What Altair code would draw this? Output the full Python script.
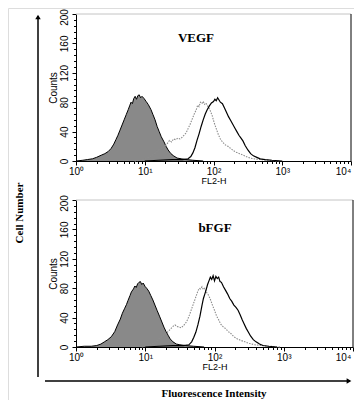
import altair as alt
import pandas as pd

# ---- data: positions are log10(FL2-H), values are counts ----
vegf_ctrl_d = [0.00, 0.10, 0.17, 0.24, 0.30, 0.37, 0.42, 0.47, 0.51, 0.55, 0.58, 0.61, 0.64, 0.67, 0.70, 0.73,
               0.76, 0.78, 0.80, 0.82, 0.84, 0.86, 0.88, 0.90, 0.92, 0.94, 0.96, 0.99, 1.02, 1.05, 1.09, 1.12,
               1.15, 1.18, 1.21, 1.24, 1.28, 1.31, 1.34, 1.38, 1.42, 1.47, 1.53, 1.60, 1.70, 1.85]
vegf_ctrl_c = [0, 1, 2, 3, 5, 8, 10, 13, 17, 23, 29, 35, 42, 49, 56, 63,
               70, 75, 80, 78, 85, 88, 84, 89, 90, 86, 88, 85, 81, 77, 70, 63,
               56, 47, 40, 33, 26, 20, 15, 10, 7, 4, 3, 2, 1, 0]

vegf_dot_d = [0.85, 0.95, 1.02, 1.08, 1.14, 1.19, 1.24, 1.29, 1.33, 1.36, 1.39, 1.42, 1.45, 1.48, 1.51, 1.54,
              1.57, 1.60, 1.63, 1.66, 1.69, 1.72, 1.75, 1.77, 1.79, 1.81, 1.83, 1.85, 1.87, 1.89, 1.92, 1.95,
              1.98, 2.01, 2.04, 2.07, 2.10, 2.13, 2.17, 2.21, 2.25, 2.29, 2.33, 2.38, 2.43, 2.50, 2.58, 2.68,
              2.80, 2.95]
vegf_dot_c = [0, 1, 3, 6, 10, 14, 17, 20, 24, 28, 26, 30, 29, 31, 30, 32,
              35, 38, 44, 50, 57, 64, 70, 76, 74, 80, 78, 81, 77, 79, 74, 69,
              62, 52, 44, 36, 30, 26, 22, 20, 17, 14, 12, 10, 8, 5, 3, 2,
              1, 0]

vegf_sol_d = [1.00, 1.20, 1.40, 1.55, 1.63, 1.67, 1.70, 1.73, 1.76, 1.79, 1.82, 1.85, 1.88, 1.91, 1.94, 1.97,
              2.00, 2.02, 2.04, 2.06, 2.08, 2.10, 2.13, 2.16, 2.19, 2.22, 2.25, 2.28, 2.31, 2.34, 2.37, 2.40,
              2.43, 2.46, 2.50, 2.54, 2.58, 2.63, 2.68, 2.75, 2.85, 3.00]
vegf_sol_c = [0, 1, 2, 2, 3, 6, 11, 18, 28, 37, 47, 56, 64, 70, 75, 79,
              81, 84, 82, 86, 83, 80, 78, 72, 66, 60, 55, 50, 45, 40, 35, 31,
              27, 21, 15, 10, 7, 5, 3, 2, 1, 0]

bfgf_ctrl_d = [0.00, 0.12, 0.22, 0.30, 0.36, 0.41, 0.46, 0.51, 0.56, 0.60, 0.64, 0.67, 0.70, 0.73, 0.75, 0.78,
               0.80, 0.83, 0.85, 0.87, 0.89, 0.91, 0.93, 0.95, 0.97, 1.00, 1.02, 1.05, 1.08, 1.11, 1.14, 1.17,
               1.21, 1.24, 1.27, 1.30, 1.33, 1.36, 1.40, 1.45, 1.50, 1.58, 1.70, 1.85]
bfgf_ctrl_c = [0, 1, 1, 2, 4, 7, 10, 14, 21, 30, 38, 46, 52, 58, 63, 70,
               75, 79, 83, 81, 86, 88, 89, 85, 87, 82, 80, 76, 70, 64, 57, 50,
               41, 34, 27, 21, 16, 11, 7, 4, 3, 2, 1, 0]

bfgf_dot_d = [0.95, 1.05, 1.12, 1.18, 1.24, 1.29, 1.33, 1.37, 1.40, 1.43, 1.46, 1.49, 1.52, 1.55, 1.58, 1.61,
              1.64, 1.67, 1.70, 1.73, 1.76, 1.78, 1.80, 1.82, 1.84, 1.86, 1.88, 1.91, 1.94, 1.97, 2.00, 2.03,
              2.06, 2.09, 2.12, 2.16, 2.20, 2.24, 2.28, 2.33, 2.38, 2.44, 2.50, 2.58, 2.68, 2.80, 2.95]
bfgf_dot_c = [0, 2, 5, 10, 14, 18, 21, 25, 28, 30, 28, 27, 26, 29, 32, 37,
              44, 52, 60, 68, 76, 80, 79, 82, 78, 80, 75, 71, 65, 57, 50, 42,
              37, 31, 28, 25, 21, 18, 14, 11, 9, 7, 5, 3, 2, 1, 0]

bfgf_sol_d = [1.00, 1.20, 1.40, 1.55, 1.63, 1.67, 1.70, 1.73, 1.76, 1.79, 1.82, 1.84, 1.86, 1.88, 1.90, 1.92,
              1.94, 1.96, 1.98, 2.00, 2.02, 2.04, 2.06, 2.08, 2.10, 2.13, 2.16, 2.19, 2.22, 2.25, 2.28, 2.31,
              2.34, 2.37, 2.40, 2.43, 2.46, 2.49, 2.52, 2.56, 2.60, 2.65, 2.70, 2.78, 2.90]
bfgf_sol_c = [0, 1, 2, 2, 3, 7, 13, 20, 30, 42, 57, 66, 72, 78, 85, 90,
              95, 92, 97, 90, 96, 93, 95, 89, 88, 82, 77, 72, 66, 62, 57, 54,
              50, 44, 37, 31, 25, 20, 15, 10, 7, 4, 2, 1, 0]

x_major = [1, 10, 100, 1000, 10000]
x_major_labels = ["10\u2070", "10\u00b9", "10\u00b2", "10\u00b3", "10\u2074"]
x_ticks = [m * 10 ** e for e in range(4) for m in range(1, 10)] + [10000]
y_major = [0, 40, 80, 120, 160, 200]
y_ticks = list(range(0, 201, 8))

SANS = "Liberation Sans"
SERIF = "Liberation Serif"

label_expr = " : ".join(
    f"datum.value == {v} ? '{t}'" for v, t in zip(x_major, x_major_labels)
) + " : ''"
x_test = "indexof([" + ",".join(str(v) for v in x_major) + "], datum.value) >= 0"
y_test = "indexof([" + ",".join(str(v) for v in y_major) + "], datum.value) >= 0"

W, H = 346, 392
one = pd.DataFrame({"k": [0]})


def panel(ctrl_d, ctrl_c, dot_d, dot_c, sol_d, sol_c, x_range, y_range, last_shift):
    df = pd.concat([
        pd.DataFrame({"d": ctrl_d, "count": ctrl_c, "series": "ctrl"}),
        pd.DataFrame({"d": dot_d, "count": dot_c, "series": "dot"}),
        pd.DataFrame({"d": sol_d, "count": sol_c, "series": "sol"}),
    ])
    base = alt.Chart(df).transform_calculate(fl="pow(10, datum.d)")
    x = alt.X("fl:Q", scale=alt.Scale(type="log", domain=[1, 10000], nice=False, range=x_range),
              axis=alt.Axis(orient="bottom", offset=y_range[0] - H,
                            values=x_ticks, labelExpr=label_expr,
                            tickSize={"condition": {"test": x_test, "value": 4}, "value": 2.5},
                            labelOffset={"condition": {"test": "datum.value == 10000", "value": last_shift},
                                         "value": 0},
                            title="FL2-H", titleFont=SANS, titleFontSize=9, titleFontWeight="normal",
                            titlePadding=0, titleColor="black",
                            labelFont=SANS, labelFontSize=10, labelPadding=1, labelColor="black",
                            labelFlush=False, labelOverlap=False, grid=False,
                            domainColor="black", tickColor="black"))
    y = alt.Y("count:Q", scale=alt.Scale(domain=[0, 200], nice=False, range=y_range),
              axis=alt.Axis(orient="left", offset=-x_range[0],
                            values=y_ticks, labelExpr=f"{y_test} ? datum.label : ''",
                            tickSize={"condition": {"test": y_test, "value": 4}, "value": 2.5},
                            labelOffset={"condition": {"test": "datum.value == 200", "value": 3},
                                         "value": 0},
                            labelAngle=270, labelAlign="center", labelBaseline="bottom",
                            title="Counts", titleFont=SANS, titleFontSize=10, titleFontWeight="normal",
                            titlePadding=1, titleColor="black",
                            labelFont=SANS, labelFontSize=10, labelPadding=3, labelColor="black",
                            labelOverlap=False, grid=False,
                            domainColor="black", tickColor="black"))
    area = base.transform_filter("datum.series == 'ctrl'").mark_area(
        color="#575757", line=alt.OverlayMarkDef(color="black", strokeWidth=1)
    ).encode(x=x, y=y)
    dotted = base.transform_filter("datum.series == 'dot'").mark_line(
        color="#8c8c8c", strokeDash=[1.5, 1.2], strokeWidth=1.1
    ).encode(x=x, y=y)
    solid = base.transform_filter("datum.series == 'sol'").mark_line(
        color="black", strokeWidth=1.2
    ).encode(x=x, y=y)
    return alt.layer(area, dotted, solid)


def frame(x0, x1, y0, y1):
    top_line = alt.Chart(one).mark_rule(color="#c4c4c4", strokeWidth=1).encode(
        x=alt.value(x0), x2=alt.value(x1), y=alt.value(y0))
    right_line = alt.Chart(one).mark_rule(color="black", strokeWidth=1).encode(
        x=alt.value(x1), y=alt.value(y0), y2=alt.value(y1))
    return [top_line, right_line]


def label(txt, x, y, size, angle=0):
    return alt.Chart(one).mark_text(text=txt, font=SERIF, fontWeight="bold", fontSize=size,
                                    angle=angle, color="black").encode(x=alt.value(x), y=alt.value(y))


TOP_X, TOP_Y = [68, 343], [153, 6]
BOT_X, BOT_Y = [68, 345], [339, 192]

top = panel(vegf_ctrl_d, vegf_ctrl_c, vegf_dot_d, vegf_dot_c, vegf_sol_d, vegf_sol_c, TOP_X, TOP_Y, -8)
bottom = panel(bfgf_ctrl_d, bfgf_ctrl_c, bfgf_dot_d, bfgf_dot_c, bfgf_sol_d, bfgf_sol_c, BOT_X, BOT_Y, -10)

decor = (
    frame(TOP_X[0], TOP_X[1], TOP_Y[1], TOP_Y[0])
    + frame(BOT_X[0], BOT_X[1], BOT_Y[1], BOT_Y[0])
    + [
        label("VEGF", 188, 30, 13),
        label("bFGF", 207, 220, 13),
        label("Cell Number", 12, 205, 11, angle=270),
        label("Fluorescence Intensity", 206, 386, 11),
        alt.Chart(one).mark_rule(color="black", strokeWidth=1.5).encode(
            x=alt.value(30), y=alt.value(8), y2=alt.value(369)),
        alt.Chart(one).mark_point(shape="triangle-up", filled=True, size=30, color="black",
                                  opacity=1).encode(x=alt.value(30), y=alt.value(9)),
        alt.Chart(one).mark_rule(color="black", strokeWidth=1.5).encode(
            x=alt.value(37), x2=alt.value(342), y=alt.value(373)),
        alt.Chart(one).mark_point(shape="triangle-right", filled=True, size=30, color="black",
                                  opacity=1).encode(x=alt.value(341), y=alt.value(373)),
    ]
)

chart = alt.layer(top, bottom, *decor).resolve_scale(
    x="independent", y="independent"
).properties(
    width=W, height=H, padding=0, autosize=alt.AutoSizeParams(type="none")
).configure_view(strokeWidth=0).configure(background="white")

chart.save("out.html", embed_options={"renderer": "svg", "actions": False})
